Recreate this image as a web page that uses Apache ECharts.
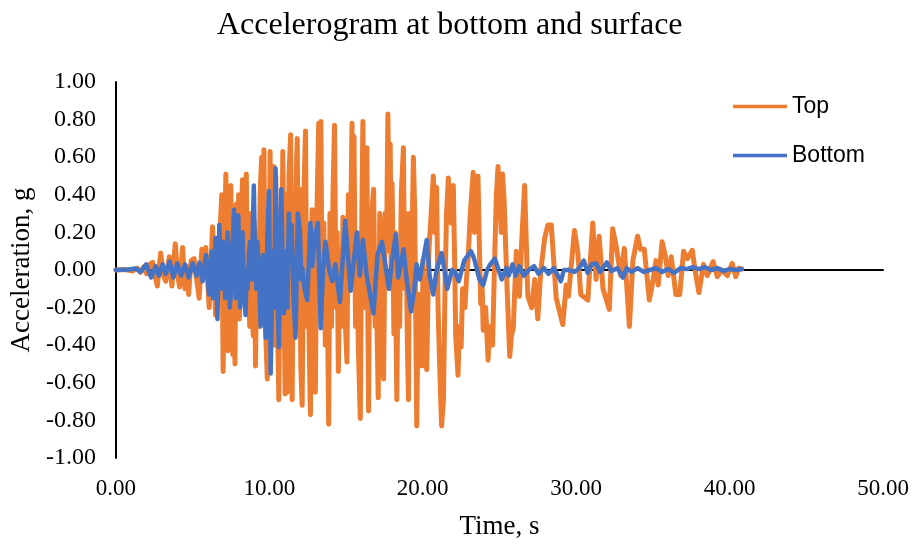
<!DOCTYPE html>
<html>
<head>
<meta charset="utf-8">
<title>Accelerogram at bottom and surface</title>
<script src="https://cdn.jsdelivr.net/npm/echarts@6/dist/echarts.min.js"></script>
<style>
  html, body { margin: 0; padding: 0; background: #ffffff; }
  #chart { width: 914px; height: 545px; }
</style>
</head>
<body>
<div id="chart"></div>
<script>
// Recorded accelerations (g) against time (s)
const topTime = [
  0.00, 0.60, 1.10, 1.40, 1.60, 1.80, 2.00, 2.20, 2.40, 2.55, 2.70, 2.92, 3.10, 3.25, 3.48, 3.65, 3.87, 4.02, 4.15, 4.35,
  4.50, 4.62, 4.74, 4.90, 5.10, 5.25, 5.43, 5.60, 5.72, 5.86, 6.08, 6.30, 6.50, 6.70,
  6.90, 6.99, 7.08, 7.17, 7.24, 7.30, 7.40, 7.49, 7.56, 7.62, 7.70, 7.76, 7.84, 7.92, 8.00, 8.05, 8.15, 8.25, 8.32, 8.40,
  8.50, 8.58, 8.65, 8.72, 8.80, 8.88, 8.95, 9.02, 9.10, 9.18, 9.25, 9.30, 9.40, 9.50, 9.57, 9.65, 9.75, 9.87, 9.93, 9.98,
  10.05, 10.12, 10.20, 10.30, 10.36, 10.42, 10.52, 10.62, 10.70, 10.78, 10.88, 10.95, 11.03, 11.10, 11.17, 11.28, 11.39, 11.44, 11.49, 11.57,
  11.65, 11.74, 11.82, 11.90, 11.98, 12.05, 12.14, 12.25, 12.36, 12.44, 12.52, 12.60, 12.68, 12.74, 12.79, 12.88, 13.00, 13.10, 13.22, 13.29,
  13.36, 13.45, 13.55, 13.65, 13.75, 13.87, 13.95, 14.05, 14.15, 14.25, 14.35, 14.42, 14.50, 14.60, 14.70, 14.80, 14.92, 15.06, 15.15, 15.25,
  15.39, 15.45, 15.52, 15.62, 15.70, 15.80, 15.93, 16.02, 16.10, 16.20, 16.28, 16.36, 16.42, 16.47, 16.55, 16.62, 16.72, 16.80, 16.90, 17.00,
  17.10, 17.20, 17.30, 17.38, 17.45, 17.55, 17.64, 17.73, 17.80, 17.88, 17.95, 18.00, 18.06, 18.12, 18.20, 18.31, 18.40, 18.50, 18.60, 18.74,
  18.82, 18.90, 19.00, 19.07, 19.15, 19.25, 19.39, 19.48, 19.61, 19.68, 19.75, 19.85, 19.94, 20.02, 20.10, 20.26, 20.40, 20.55, 20.69, 20.78,
  20.90, 21.00, 21.10, 21.23, 21.35, 21.45, 21.55, 21.67, 21.75, 21.85, 21.99, 22.07, 22.15, 22.30, 22.40, 22.50, 22.60, 22.75, 22.85, 22.95,
  23.10, 23.29, 23.37, 23.45, 23.60, 23.70, 23.78, 23.86, 23.94, 24.10, 24.26, 24.35, 24.45, 24.55, 24.70, 24.80, 24.91, 24.98, 25.05, 25.12,
  25.20, 25.30, 25.40, 25.50, 25.67, 25.78, 25.90, 26.10, 26.30, 26.45, 26.64, 26.85, 27.10, 27.30, 27.50, 27.70, 27.95, 28.16, 28.38, 28.70,
  29.13, 29.35, 29.50, 29.89, 30.10, 30.30, 30.76, 31.08, 31.30, 31.50, 31.75, 32.16, 32.38, 32.60, 32.90, 33.14, 33.47, 33.70, 34.00, 34.20,
  34.44, 34.77, 35.00, 35.20, 35.35, 35.60, 35.80, 36.00, 36.20, 36.50, 36.75, 37.00, 37.25, 37.57, 37.75, 38.00, 38.30, 38.55, 38.93, 39.20,
  39.50, 39.85, 40.17, 40.40, 40.60, 40.80
];
const topAccel = [
  0.000, 0.003, -0.005, 0.010, -0.012, 0.015, -0.020, 0.030, 0.040, -0.030, -0.085, 0.090, -0.030, -0.060, 0.070, -0.085, 0.140, -0.020, -0.090, 0.120,
  -0.100, 0.020, -0.130, 0.050, 0.060, -0.040, -0.150, 0.110, -0.020, 0.120, -0.200, 0.230, -0.240, 0.050,
  0.400, -0.540, 0.100, 0.510, -0.200, -0.430, 0.300, 0.450, -0.100, -0.450, 0.200, -0.500, 0.350, -0.100, 0.400, -0.260, 0.200, 0.480, -0.150, 0.350,
  0.510, -0.200, 0.050, -0.300, 0.300, -0.100, -0.350, 0.250, -0.510, 0.100, 0.200, -0.300, 0.400, 0.600, -0.200, 0.640, -0.300, -0.580, 0.200, -0.450,
  0.630, -0.300, 0.250, 0.550, -0.400, 0.500, -0.200, -0.690, 0.100, -0.400, 0.630, -0.100, -0.660, 0.400, -0.650, 0.500, 0.720, -0.200, -0.690, 0.300,
  -0.300, 0.450, 0.700, -0.300, 0.430, -0.500, -0.720, 0.400, 0.740, -0.300, 0.200, -0.400, -0.770, 0.100, 0.320, -0.400, -0.650, 0.300, 0.780, -0.100,
  0.790, -0.300, 0.250, -0.400, 0.100, -0.820, 0.300, -0.300, 0.400, 0.770, -0.200, 0.200, -0.540, 0.100, -0.300, 0.280, -0.200, -0.490, 0.400, -0.100,
  0.780, 0.100, 0.710, -0.300, 0.200, -0.400, -0.790, 0.200, 0.790, -0.200, 0.300, 0.650, -0.200, -0.750, 0.200, -0.100, 0.350, 0.430, -0.300, -0.220,
  -0.680, 0.300, 0.100, -0.300, -0.580, 0.300, 0.100, 0.830, 0.300, 0.670, -0.100, 0.460, 0.100, -0.340, 0.200, -0.690, 0.100, -0.300, 0.400, 0.650,
  -0.100, 0.300, -0.400, -0.690, 0.300, -0.100, 0.600, 0.300, -0.830, -0.300, -0.130, -0.450, -0.510, 0.050, -0.300, -0.530, 0.100, 0.300, 0.500, 0.200,
  0.440, -0.200, -0.500, -0.830, -0.690, -0.100, 0.300, 0.490, 0.300, 0.250, 0.450, 0.100, -0.350, -0.560, -0.300, -0.410, -0.100, -0.200, -0.050, 0.050,
  0.300, 0.520, 0.200, 0.280, 0.500, 0.100, -0.180, -0.050, -0.320, -0.200, -0.480, -0.300, -0.330, -0.400, 0.100, 0.400, 0.550, 0.300, 0.330, 0.200,
  0.510, 0.380, 0.390, -0.100, -0.460, -0.350, -0.310, 0.100, -0.140, 0.150, 0.450, -0.140, -0.200, -0.050, -0.260, 0.000, 0.170, 0.240, 0.240, -0.150,
  -0.290, -0.080, -0.140, 0.210, 0.100, -0.130, -0.160, 0.250, -0.050, 0.180, -0.100, -0.210, 0.220, 0.130, -0.030, 0.115, -0.300, 0.050, 0.180, 0.110,
  0.110, -0.160, -0.060, 0.050, -0.080, 0.150, 0.080, -0.030, 0.070, -0.130, -0.130, 0.100, 0.060, 0.105, 0.000, -0.120, 0.030, -0.030, 0.045, -0.035,
  0.000, -0.030, 0.035, -0.035, 0.010, 0.005
];

const bottomTime = [
  0.00, 0.80, 1.30, 1.60, 1.97, 2.30, 2.60, 2.80, 3.05, 3.25, 3.50, 3.75, 4.00, 4.25, 4.50, 4.75, 5.00, 5.25, 5.45, 5.65,
  5.87, 6.07, 6.18, 6.25, 6.33, 6.40, 6.50, 6.62, 6.74, 6.82, 6.90, 6.98, 7.05, 7.12, 7.20, 7.28, 7.35, 7.42, 7.50, 7.60,
  7.70, 7.76, 7.82, 7.90, 7.98, 8.05, 8.10, 8.18, 8.25, 8.35, 8.45, 8.52, 8.60, 8.68, 8.75, 8.85, 8.99, 9.08, 9.15, 9.22,
  9.30, 9.44, 9.52, 9.60, 9.68, 9.77, 9.88, 9.98, 10.09, 10.18, 10.25, 10.33, 10.41, 10.52, 10.62, 10.78, 10.87, 10.95, 11.02, 11.10,
  11.18, 11.27, 11.38, 11.45, 11.58, 11.71, 11.86, 12.00, 12.08, 12.15, 12.30, 12.47, 12.68, 12.80, 12.95, 13.16, 13.35, 13.50, 13.66, 13.90,
  14.10, 14.30, 14.60, 14.95, 15.15, 15.30, 15.71, 15.90, 16.10, 16.35, 16.79, 17.05, 17.34, 17.80, 18.00, 18.25, 18.40, 18.55, 18.75, 18.95,
  19.24, 19.45, 19.60, 19.80, 20.26, 20.45, 20.69, 20.90, 21.23, 21.45, 21.60, 21.90, 22.10, 22.35, 22.70, 23.14, 23.35, 23.70, 23.94, 24.20,
  24.40, 24.70, 24.95, 25.15, 25.45, 25.60, 25.85, 26.05, 26.30, 26.60, 26.90, 27.25, 27.55, 27.90, 28.20, 28.55, 29.00, 29.20, 29.50, 29.90,
  30.20, 30.50, 30.75, 31.00, 31.30, 31.55, 32.00, 32.30, 32.70, 33.05, 33.30, 33.60, 34.00, 34.40, 34.80, 35.20, 35.60, 36.00, 36.40, 36.80,
  37.20, 37.60, 38.00, 38.40, 38.80, 39.20, 39.60, 40.00, 40.40, 40.80
];
const bottomAccel = [
  0.000, 0.003, 0.008, -0.010, 0.030, -0.040, 0.020, -0.030, 0.030, -0.020, 0.045, -0.040, 0.035, -0.030, 0.030, -0.040, 0.035, -0.030, 0.040, -0.060,
  0.080, -0.130, 0.050, 0.100, -0.150, -0.080, 0.170, -0.260, 0.240, 0.000, -0.100, 0.150, 0.100, -0.150, -0.050, 0.200, 0.080, -0.200, -0.120, 0.100,
  0.320, -0.050, -0.150, 0.100, 0.290, -0.080, -0.200, 0.050, 0.200, -0.100, -0.240, 0.000, -0.100, 0.100, 0.150, -0.050, 0.450, 0.000, -0.100, 0.150,
  0.050, -0.300, 0.000, 0.080, -0.150, -0.360, 0.200, 0.420, -0.550, -0.100, 0.100, -0.200, 0.540, -0.100, -0.410, 0.430, 0.000, -0.230, 0.100, 0.050,
  -0.200, 0.300, 0.050, 0.240, -0.150, -0.360, 0.300, 0.200, -0.050, 0.010, -0.100, -0.160, 0.250, 0.020, 0.170, 0.250, -0.310, 0.000, 0.150, 0.000,
  -0.060, 0.030, -0.170, 0.260, 0.050, -0.110, 0.200, -0.030, 0.160, -0.030, -0.230, 0.080, 0.150, -0.100, 0.050, 0.190, -0.040, 0.020, 0.110, -0.050,
  -0.220, -0.100, 0.030, -0.050, 0.160, -0.030, -0.130, 0.000, 0.090, -0.020, -0.100, 0.000, -0.010, -0.060, 0.050, 0.100, 0.060, -0.050, -0.080, 0.000,
  0.030, 0.060, 0.000, -0.050, 0.010, -0.030, 0.030, -0.030, 0.020, -0.030, 0.000, 0.020, -0.020, 0.010, -0.020, 0.010, -0.060, 0.000, 0.000, -0.010,
  0.010, 0.050, -0.015, 0.030, 0.035, -0.010, 0.040, -0.005, 0.010, -0.040, 0.010, -0.010, 0.010, -0.010, 0.000, 0.010, -0.010, 0.005, -0.015, 0.010,
  0.005, 0.015, 0.005, 0.015, 0.000, 0.010, -0.005, 0.005, 0.000, 0.005
];

const seriesNames = ['Top', 'Bottom'];
const seriesColors = ['#ED7D31', '#4472C4'];

const pairs = (t, a) => t.map((v, i) => [v, a[i]]);

const serif = '"Liberation Serif", "Times New Roman", serif';
const sans = '"Liberation Sans", Arial, sans-serif';

const chart = echarts.init(document.getElementById('chart'), null, { renderer: 'canvas' });

chart.setOption({
  animation: false,
  backgroundColor: '#ffffff',
  title: {
    text: 'Accelerogram at bottom and surface',
    left: 212,
    top: 5,
    textStyle: { fontFamily: serif, fontSize: 32, fontWeight: 'normal', color: '#000000' }
  },
  legend: {
    orient: 'vertical',
    left: 728,
    top: 90,
    itemGap: 26,
    icon: 'rect',
    itemWidth: 54,
    itemHeight: 3.5,
    data: seriesNames,
    textStyle: { fontFamily: sans, fontSize: 23, color: '#000000' }
  },
  grid: { left: 110, right: 31, top: 82, bottom: 80, containLabel: false },
  xAxis: [
    {
      type: 'value',
      min: 0,
      max: 50,
      interval: 10,
      name: 'Time, s',
      nameLocation: 'middle',
      nameGap: 55,
      nameTextStyle: { fontFamily: serif, fontSize: 27, color: '#000000' },
      axisLine: { show: false, onZero: false },
      axisTick: { show: false },
      splitLine: { show: false },
      axisLabel: {
        margin: 19,
        fontFamily: serif,
        fontSize: 23,
        color: '#000000',
        formatter: v => v.toFixed(2)
      }
    },
    {
      // zero line across the plot
      type: 'value',
      min: 0,
      max: 50,
      position: 'bottom',
      axisLine: { show: true, onZero: true, lineStyle: { color: '#000000', width: 2 } },
      axisTick: { show: false },
      axisLabel: { show: false },
      splitLine: { show: false }
    }
  ],
  yAxis: {
    type: 'value',
    min: -1,
    max: 1,
    interval: 0.2,
    name: 'Acceleration, g',
    nameLocation: 'middle',
    nameGap: 78,
    nameTextStyle: { fontFamily: serif, fontSize: 27, color: '#000000' },
    axisLine: { show: true, onZero: false, lineStyle: { color: '#000000', width: 2 } },
    axisTick: { show: false },
    splitLine: { show: false },
    axisLabel: {
      margin: 20,
      fontFamily: serif,
      fontSize: 24,
      color: '#000000',
      formatter: v => v.toFixed(2)
    }
  },
  series: [
    {
      name: seriesNames[0],
      type: 'line',
      xAxisIndex: 0,
      data: pairs(topTime, topAccel),
      showSymbol: false,
      symbol: 'none',
      sampling: null,
      lineStyle: { color: seriesColors[0], width: 5, join: 'round', cap: 'round' },
      itemStyle: { color: seriesColors[0] },
      z: 2
    },
    {
      name: seriesNames[1],
      type: 'line',
      xAxisIndex: 0,
      data: pairs(bottomTime, bottomAccel),
      showSymbol: false,
      symbol: 'none',
      sampling: null,
      lineStyle: { color: seriesColors[1], width: 4.5, join: 'round', cap: 'round' },
      itemStyle: { color: seriesColors[1] },
      z: 3
    }
  ]
});
</script>
</body>
</html>
